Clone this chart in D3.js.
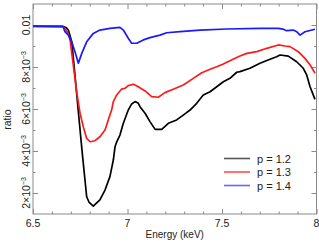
<!DOCTYPE html>
<html>
<head>
<meta charset="utf-8">
<script src="https://cdn.jsdelivr.net/npm/d3@7"></script>
<style>
  body { margin: 0; background: #fff; }
  text { font-family: "Liberation Sans", Arial, sans-serif; fill: #222; }
</style>
</head>
<body>
<div id="chart"></div>
<script>
// values
const energy12 = [6.5, 6.659, 6.675, 6.687, 6.705, 6.722, 6.740, 6.759, 6.775, 6.784, 6.796, 6.819, 6.854, 6.881, 6.907, 6.925, 6.934, 6.943, 6.960, 6.978, 7.004, 7.022, 7.040, 7.056, 7.066, 7.093, 7.119, 7.146, 7.181, 7.216, 7.260, 7.295, 7.331, 7.366, 7.401, 7.437, 7.472, 7.507, 7.542, 7.578, 7.595, 7.648, 7.701, 7.754, 7.789, 7.807, 7.851, 7.895, 7.930, 7.948, 7.966, 7.992];
const ratio12 = [0.00993, 0.00993, 0.00988, 0.00976, 0.00920, 0.00762, 0.00587, 0.00405, 0.00262, 0.00182, 0.00157, 0.00138, 0.00167, 0.00214, 0.00278, 0.00357, 0.00420, 0.00444, 0.00476, 0.00532, 0.00595, 0.00624, 0.00635, 0.00629, 0.00611, 0.00580, 0.00540, 0.00503, 0.00503, 0.00532, 0.00548, 0.00571, 0.00595, 0.00627, 0.00667, 0.00682, 0.00706, 0.00730, 0.00746, 0.00775, 0.00778, 0.00794, 0.00818, 0.00837, 0.00849, 0.00857, 0.00852, 0.00825, 0.00794, 0.00762, 0.00706, 0.00646];

const energy13 = [6.5, 6.659, 6.669, 6.685, 6.696, 6.713, 6.731, 6.749, 6.766, 6.784, 6.802, 6.828, 6.854, 6.881, 6.898, 6.916, 6.925, 6.943, 6.969, 6.987, 7.004, 7.031, 7.057, 7.093, 7.128, 7.163, 7.198, 7.242, 7.295, 7.348, 7.393, 7.437, 7.472, 7.507, 7.542, 7.595, 7.631, 7.684, 7.737, 7.798, 7.833, 7.860, 7.904, 7.939, 7.966, 7.992];
const ratio13 = [0.00995, 0.00993, 0.00983, 0.00962, 0.00929, 0.00810, 0.00682, 0.00580, 0.00516, 0.00460, 0.00444, 0.00449, 0.00468, 0.00500, 0.00548, 0.00595, 0.00635, 0.00667, 0.00695, 0.00699, 0.00711, 0.00718, 0.00706, 0.00686, 0.00659, 0.00656, 0.00678, 0.00694, 0.00714, 0.00746, 0.00773, 0.00789, 0.00801, 0.00814, 0.00830, 0.00852, 0.00865, 0.00873, 0.00889, 0.00905, 0.00900, 0.00897, 0.00873, 0.00841, 0.00810, 0.00770];

const energy14 = [6.5, 6.659, 6.669, 6.687, 6.705, 6.722, 6.740, 6.758, 6.784, 6.819, 6.854, 6.907, 6.960, 6.978, 7.004, 7.022, 7.049, 7.084, 7.119, 7.172, 7.207, 7.278, 7.384, 7.525, 7.701, 7.798, 7.824, 7.842, 7.877, 7.895, 7.913, 7.939, 7.992];
const ratio14 = [0.00995, 0.00992, 0.00968, 0.00952, 0.00920, 0.00873, 0.00818, 0.00865, 0.00920, 0.00960, 0.00976, 0.00984, 0.00989, 0.00976, 0.00937, 0.00913, 0.00913, 0.00929, 0.00940, 0.00952, 0.00963, 0.00968, 0.00976, 0.00981, 0.00984, 0.00984, 0.00980, 0.00973, 0.00976, 0.00968, 0.00952, 0.00968, 0.00980];

const seriesNames = ["p = 1.2", "p = 1.3", "p = 1.4"];
const colors = ["#000000", "#ff1a1a", "#1a1aff"];
const legendColors = ["#555555", "#ff4d4d", "#6666ff"];

const xMajor = [6.5, 7, 7.5, 8];
const xMajorLabels = ["6.5", "7", "7.5", "8"];
const yMajor = [0.002, 0.004, 0.006, 0.008, 0.01];
const yMajorLabels = [["2", "×10", "−3"], ["4", "×10", "−3"], ["6", "×10", "−3"], ["8", "×10", "−3"], ["0.01", "", ""]];

const series = [
  energy12.map((e, i) => ({e: e, r: ratio12[i]})),
  energy13.map((e, i) => ({e: e, r: ratio13[i]})),
  energy14.map((e, i) => ({e: e, r: ratio14[i]}))
];

const W = 319, H = 244;
const margin = {top: 4, right: 2.5, bottom: 30, left: 33},
      width = W - margin.left - margin.right,
      height = H - margin.top - margin.bottom;

const svg = d3.select("#chart")
  .append("svg")
    .attr("width", W)
    .attr("height", H)
  .append("g")
    .attr("transform", `translate(${margin.left},${margin.top})`);

const x = d3.scaleLinear().domain([6.5, 8]).range([0, width]);
const y = d3.scaleLinear().domain([0.001, 0.011]).range([height, 0]);

const xMinor = d3.range(65, 81).map(d => d / 10).filter(d => !xMajor.includes(d));
const yMinor = [0.003, 0.005, 0.007, 0.009];

// ticks point inward on all four sides
const axisColor = "#8a8a8a";
function ticks(axis, vals, size) {
  return axis.tickValues(vals).tickSize(-size).tickSizeOuter(0).tickFormat("");
}
const gx = [
  svg.append("g").attr("transform", `translate(0,${height})`).call(ticks(d3.axisBottom(x), xMajor, 5)),
  svg.append("g").attr("transform", `translate(0,${height})`).call(ticks(d3.axisBottom(x), xMinor, 2.5)),
  svg.append("g").call(ticks(d3.axisTop(x), xMajor, 5)),
  svg.append("g").call(ticks(d3.axisTop(x), xMinor, 2.5)),
  svg.append("g").call(ticks(d3.axisLeft(y), yMajor, 5)),
  svg.append("g").call(ticks(d3.axisLeft(y), yMinor, 2.5)),
  svg.append("g").attr("transform", `translate(${width},0)`).call(ticks(d3.axisRight(y), yMajor, 5)),
  svg.append("g").attr("transform", `translate(${width},0)`).call(ticks(d3.axisRight(y), yMinor, 2.5))
];
gx.forEach(g => {
  g.select(".domain").remove();
  g.selectAll("line").attr("stroke", axisColor);
});

// frame
svg.append("rect")
  .attr("width", width)
  .attr("height", height)
  .attr("fill", "none")
  .attr("stroke", axisColor)
  .attr("stroke-width", 1);

// x tick labels
svg.selectAll(".xlab")
  .data(xMajor)
  .join("text")
    .attr("x", d => x(d))
    .attr("y", height + 13)
    .attr("text-anchor", "middle")
    .attr("font-size", 10.5)
    .text((d, i) => xMajorLabels[i]);

// y tick labels, rotated
const ylab = svg.selectAll(".ylab")
  .data(yMajor)
  .join("text")
    .attr("transform", d => `translate(-3,${y(d)}) rotate(-90)`)
    .attr("text-anchor", "middle")
    .attr("font-size", 10.5);
ylab.append("tspan").text((d, i) => yMajorLabels[i][0] + yMajorLabels[i][1]);
ylab.append("tspan")
  .attr("dy", -4)
  .attr("font-size", 7)
  .text((d, i) => yMajorLabels[i][2]);

// axis titles
svg.append("text")
  .attr("x", width / 2)
  .attr("y", height + 24)
  .attr("text-anchor", "middle")
  .attr("font-size", 10)
  .text("Energy (keV)");

svg.append("text")
  .attr("transform", `translate(-22,${y(0.0055)}) rotate(-90)`)
  .attr("text-anchor", "middle")
  .attr("font-size", 10.5)
  .text("ratio");

// the lines
const line = d3.line()
  .x(d => x(d.e))
  .y(d => y(d.r));

svg.selectAll(".series")
  .data(series)
  .join("path")
    .attr("fill", "none")
    .attr("stroke", (d, i) => colors[i])
    .attr("stroke-width", 1.7)
    .attr("stroke-linejoin", "round")
    .attr("d", line);

// legend
const legend = svg.append("g")
  .attr("transform", `translate(${224 - margin.left},${158.5 - margin.top})`);
seriesNames.forEach((name, i) => {
  const row = legend.append("g").attr("transform", `translate(0,${i * 13.5})`);
  row.append("line")
    .attr("x1", 0).attr("x2", 26)
    .attr("stroke", legendColors[i])
    .attr("stroke-width", 1.6);
  row.append("text")
    .attr("x", 33)
    .attr("y", 4)
    .attr("font-size", 11)
    .text(name);
});
</script>
</body>
</html>
